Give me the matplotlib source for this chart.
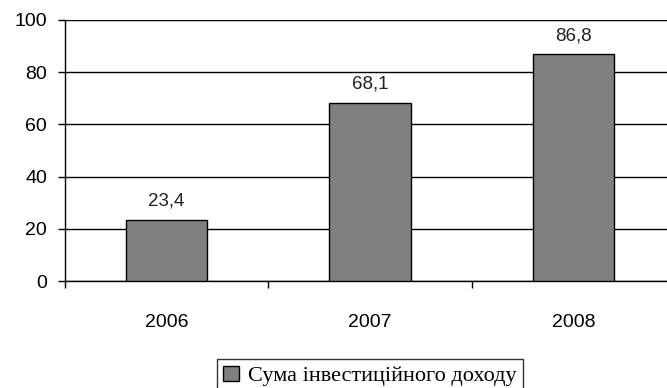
import matplotlib.pyplot as plt
from matplotlib.patches import Patch

years = ["2006", "2007", "2008"]
values = [23.4, 68.1, 86.8]
labels = ["23,4", "68,1", "86,8"]
legend_label = "Сума інвестиційного доходу"

plt.rcParams["font.family"] = ["Liberation Sans", "DejaVu Sans"]

fig = plt.figure(figsize=(6.67, 3.88), dpi=100)
ax = fig.add_axes([65 / 667, 107 / 388, 610 / 667, 261 / 388])

x = list(range(len(years)))
ax.bar(x, values, width=0.4, color="#808080", edgecolor="black", linewidth=1, zorder=3)
for xi, v, lab in zip(x, values, labels):
    ax.text(xi, v + 4, lab, ha="center", va="bottom", fontsize=13.5, color="#222222")

ax.set_xlim(-0.5, 2.5)
ax.set_ylim(0, 100)
ax.set_yticks(range(0, 101, 20))
ax.set_xticks([-0.5, 0.5, 1.5, 2.5])
ax.set_xticklabels([])
ax.set_xticks(x, minor=True)
ax.set_xticklabels(years, minor=True)
ax.tick_params(axis="x", which="minor", length=0, pad=24, labelsize=14)
ax.tick_params(axis="x", which="major", length=5, width=1, direction="out")
ax.tick_params(axis="y", length=5, width=1, direction="out", pad=8, labelsize=14)
ax.yaxis.grid(True, color="black", linewidth=1, zorder=0)

for s in ["top", "right"]:
    ax.spines[s].set_visible(False)
ax.spines["left"].set_linewidth(1)
ax.spines["bottom"].set_linewidth(1)

fig.legend(handles=[Patch(facecolor="#808080", edgecolor="black", label=legend_label)],
           loc="center", bbox_to_anchor=(370 / 667, 12 / 388), frameon=True, fancybox=False,
           edgecolor="black", prop={"family": "Liberation Serif", "size": 16},
           handlelength=0.7, handleheight=0.7, handletextpad=0.4, borderpad=0.3)

fig.savefig("out.png", dpi=100)
